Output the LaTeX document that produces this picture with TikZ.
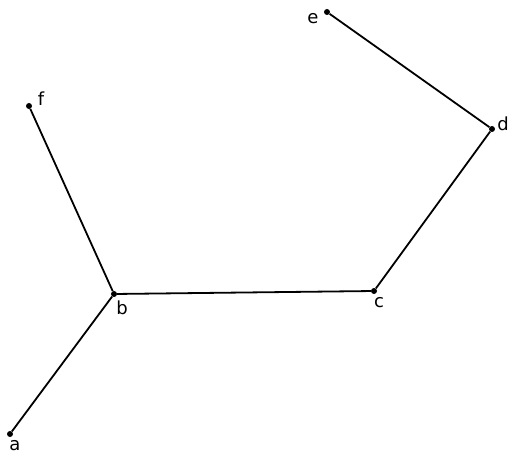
\documentclass[tikz,border=0pt]{standalone}
\usepackage{fontspec}
\setmainfont{DejaVu Sans}
\begin{document}
\begin{tikzpicture}[x=1pt,y=-1pt,
  vtx/.style={circle,fill=black,inner sep=0pt,minimum size=6pt},
  lbl/.style={font=\fontsize{18}{18}\selectfont,inner sep=0pt},
  edge/.style={line width=1.8pt}]
\useasboundingbox (0,0) rectangle (510,454);
\node[vtx] (e) at (327,12) {};
\node[vtx] (f) at (29,106) {};
\node[vtx] (d) at (492,129) {};
\node[vtx] (b) at (114,294) {};
\node[vtx] (c) at (374,291) {};
\node[vtx] (a) at (10,434) {};
\node[lbl] (le) at (313,19) {e};
\node[lbl] (lf) at (41,99) {f};
\node[lbl] (ld) at (503,124) {d};
\node[lbl] (lb) at (122,308) {b};
\node[lbl] (lc) at (379,303) {c};
\node[lbl] (la) at (15,446) {a};
\draw[edge] (e) -- (d);
\draw[edge] (d) -- (c);
\draw[edge] (c) -- (b);
\draw[edge] (b) -- (f);
\draw[edge] (b) -- (a);
\end{tikzpicture}
\end{document}
